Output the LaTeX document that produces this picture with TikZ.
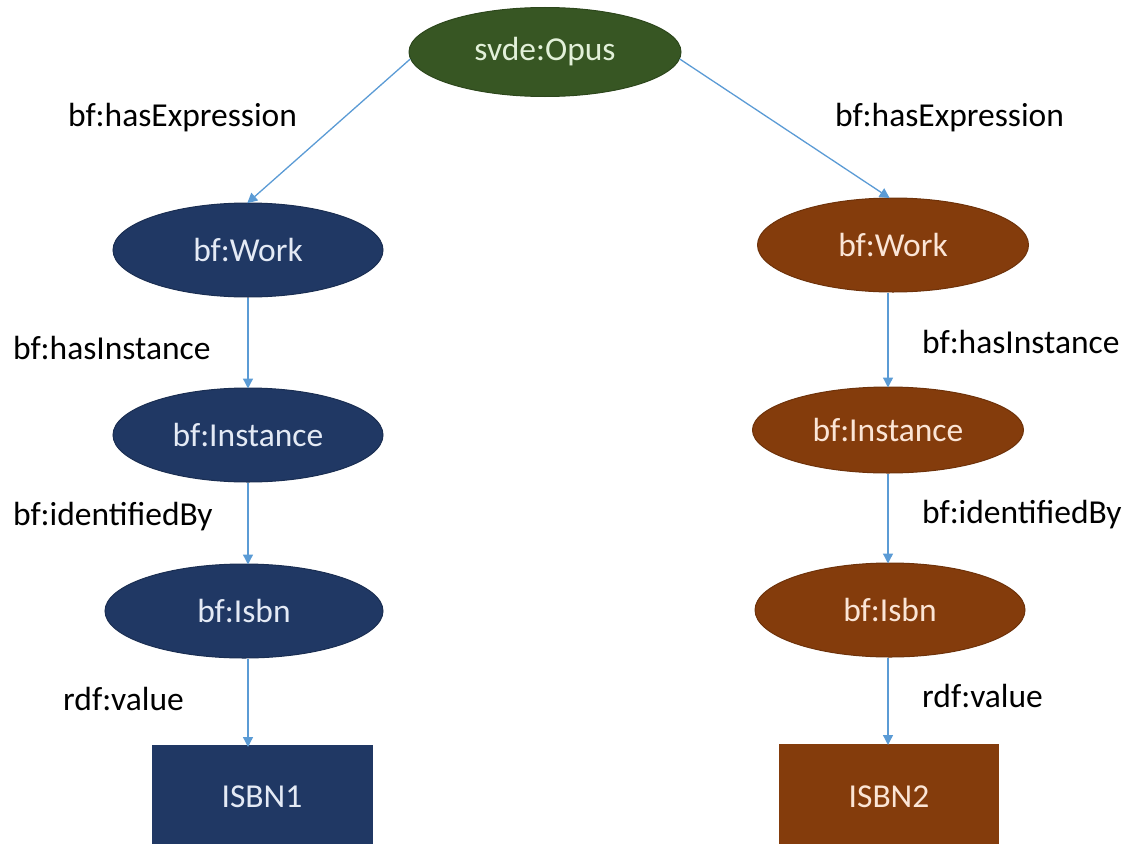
\documentclass[tikz,border=0pt]{standalone}
\usepackage{fontspec}
\setmainfont{Carlito}
\usetikzlibrary{shapes.geometric,arrows.meta}
\definecolor{navy}{HTML}{203864}
\definecolor{navyedge}{HTML}{1A2E52}
\definecolor{brownfill}{HTML}{843C0C}
\definecolor{brownedge}{HTML}{6E320A}
\definecolor{greenfill}{HTML}{375623}
\definecolor{greenedge}{HTML}{2D471C}
\definecolor{arrowblue}{HTML}{5B9BD5}
\definecolor{navytext}{HTML}{E4EAF5}
\definecolor{browntext}{HTML}{FBE5D6}
\definecolor{greentext}{HTML}{E2F0D9}
\tikzset{
  lbl/.style={font=\fontsize{33.5}{40}\selectfont, text=black, inner sep=0pt, anchor=base west},
  oval/.style={ellipse, inner sep=0pt, line width=1pt, font=\fontsize{33.5}{40}\selectfont},
  bluenode/.style={oval, fill=navy, draw=navyedge, text=navytext},
  brownnode/.style={oval, fill=brownfill, draw=brownedge, text=browntext},
  greennode/.style={oval, fill=greenfill, draw=greenedge, text=greentext},
  box/.style={rectangle, inner sep=0pt, font=\fontsize{33.5}{40}\selectfont},
  conn/.style={draw=arrowblue, line width=1.3pt, -{Triangle[width=10pt,length=10pt]}, shorten >=-1pt}
}
\begin{document}
\begin{tikzpicture}[x=1pt,y=-1pt]
\useasboundingbox (0,0) rectangle (1134,843);
% top
\node[greennode, minimum width=272pt, minimum height=89pt] (opus) at (545,52) {svde:Opus};
% left column
\node[bluenode, minimum width=270pt, minimum height=94pt] (lwork) at (248,250) {bf:Work};
\node[bluenode, minimum width=270pt, minimum height=94pt] (linst) at (248,435) {bf:Instance};
\node[bluenode, minimum width=278pt, minimum height=94pt] (lisbn) at (244,611) {bf:Isbn};
\node[box, fill=navy, text=navytext, minimum width=221pt, minimum height=100pt, anchor=north west] (isbn1) at (152,745) {};
\node[font=\fontsize{33.5}{40}\selectfont, text=navytext] (isbn1t) at (262,797) {ISBN1};
% right column
\node[brownnode, minimum width=271pt, minimum height=94pt] (rwork) at (893,245) {bf:Work};
\node[brownnode, minimum width=271pt, minimum height=86pt] (rinst) at (888,430) {bf:Instance};
\node[brownnode, minimum width=270pt, minimum height=94pt] (risbn) at (890,610) {bf:Isbn};
\node[box, fill=brownfill, text=browntext, minimum width=220pt, minimum height=100pt, anchor=north west] (isbn2) at (779,744) {};
\node[font=\fontsize{33.5}{40}\selectfont, text=browntext] (isbn2t) at (889,797) {ISBN2};
% connectors
\coordinate (lt1) at (248,746);
\coordinate (rt1) at (888,744);
\draw[conn] (opus.183) -- (lwork.north);
\draw[conn] (opus.-3) -- (rwork.95);
\draw[conn] (lwork.south) -- (linst.north);
\draw[conn] (linst.south) -- (lisbn.north -| linst.south);
\draw[conn] (lisbn.south -| linst.south) -- (lt1);
\draw[conn] (rwork.south -| rinst.north) -- (rinst.north);
\draw[conn] (rinst.south) -- (risbn.north -| rinst.south);
\draw[conn] (risbn.south -| rinst.south) -- (rt1);
% labels
\node[lbl] (l1) at (68,126) {bf:hasExpression};
\node[lbl] (r1) at (835,126) {bf:hasExpression};
\node[lbl] (l2) at (13,359) {bf:hasInstance};
\node[lbl] (r2) at (922,353) {bf:hasInstance};
\node[lbl] (l3) at (13,525) {bf:identifiedBy};
\node[lbl] (r3) at (922,523) {bf:identifiedBy};
\node[lbl] (l4) at (63,710) {rdf:value};
\node[lbl] (r4) at (922,707) {rdf:value};
\end{tikzpicture}
\end{document}
